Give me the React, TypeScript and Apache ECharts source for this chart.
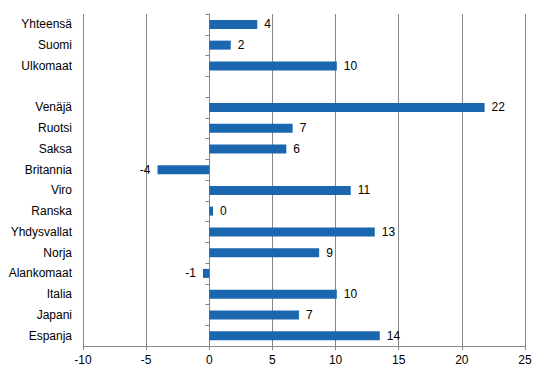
import React, { useEffect, useRef } from "react";
import * as echarts from "echarts";

const categories = [
  "Yhteensä", "Suomi", "Ulkomaat", "", "Venäjä", "Ruotsi", "Saksa", "Britannia",
  "Viro", "Ranska", "Yhdysvallat", "Norja", "Alankomaat", "Italia", "Japani", "Espanja",
];
const values: (number | null)[] = [
  3.8, 1.7, 10.1, null, 21.8, 6.6, 6.1, -4.1, 11.2, 0.3, 13.1, 8.7, -0.5, 10.1, 7.1, 13.5,
];
const valueLabels = [
  "4", "2", "10", "", "22", "7", "6", "-4", "11", "0", "13", "9", "-1", "10", "7", "14",
];
const xTicks = { min: -10, max: 25, interval: 5 };

export default function App() {
  const ref = useRef<HTMLDivElement>(null);
  useEffect(() => {
    if (!ref.current) return;
    const chart = echarts.init(ref.current, null, { renderer: "svg" });
    const font = "'Liberation Sans', Arial, sans-serif";
    chart.setOption({
      animation: false,
      textStyle: { fontFamily: font },
      grid: { left: 83, right: 21, top: 14, bottom: 30, containLabel: false, outerBoundsMode: "none" },
      xAxis: {
        type: "value",
        min: xTicks.min,
        max: xTicks.max,
        interval: xTicks.interval,
        axisLine: { show: true, onZero: false, lineStyle: { color: "#868686" } },
        axisTick: { show: true, length: 4, lineStyle: { color: "#868686" } },
        axisLabel: { color: "#000", fontSize: 12, fontFamily: font, margin: 8 },
        splitLine: { show: true, lineStyle: { color: "#868686", width: 1 } },
      },
      yAxis: [
        {
          type: "category",
          position: "left",
          inverse: true,
          data: categories,
          axisLine: { show: false, onZero: false },
          axisTick: { show: false },
          axisLabel: { color: "#000", fontSize: 12, fontFamily: font, margin: 11, interval: 0 },
          splitLine: { show: false },
        },
        {
          type: "category",
          position: "right",
          inverse: true,
          data: categories,
          axisLine: { show: true, onZero: true, lineStyle: { color: "#868686" } },
          axisTick: { show: true, inside: true, length: 4, lineStyle: { color: "#868686" } },
          axisLabel: { show: false },
          splitLine: { show: false },
        },
      ],
      series: [
        {
          type: "bar",
          yAxisIndex: 0,
          barWidth: 9,
          itemStyle: { color: "#1a67b0" },
          data: values.map((v, i) => ({
            value: v,
            label: {
              show: v !== null,
              position: v !== null && v < 0 ? "left" : "right",
              distance: 7,
              formatter: () => valueLabels[i],
              color: "#000",
              fontSize: 12,
              fontFamily: font,
            },
          })),
        },
      ],
    });
    return () => chart.dispose();
  }, []);
  return <div ref={ref} style={{ width: 546, height: 376, position: "absolute", left: 0, top: 0 }} />;
}
